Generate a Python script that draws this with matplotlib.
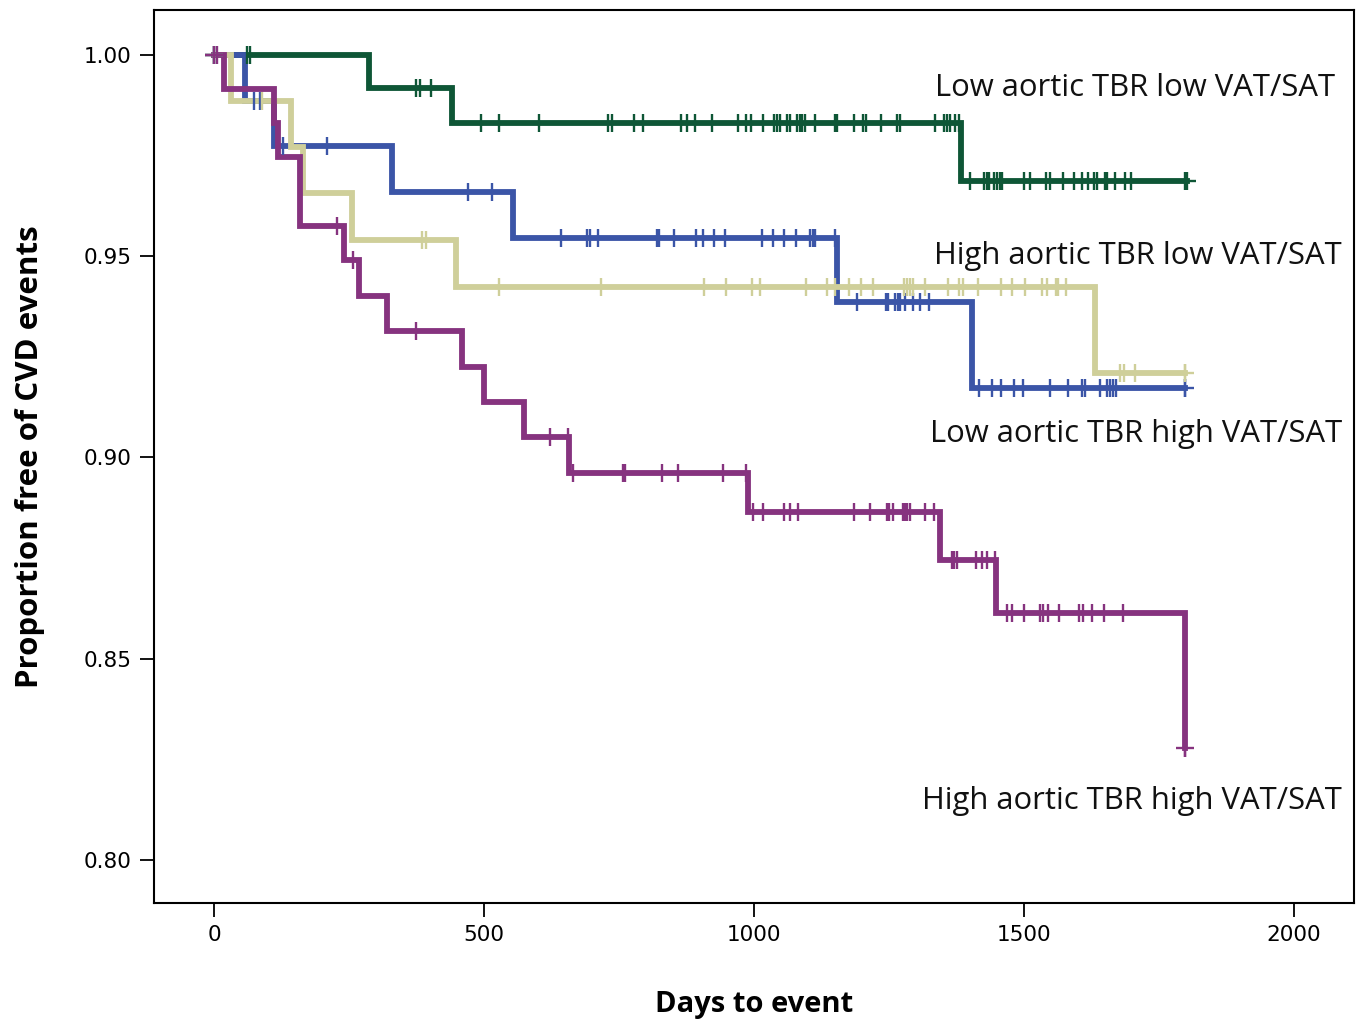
import matplotlib
matplotlib.use('Agg')
import matplotlib.pyplot as plt

# step curves: event times (days) and survival after each step
low_low_times = [0, 287, 441, 1383, 1802]
low_low_surv = [1.0, 0.9917, 0.9832, 0.9687, 0.9687]
low_low_cens = [61, 67, 374, 381, 402, 494, 527, 601, 729, 737, 778, 794, 864, 875, 891, 923,
                971, 986, 994, 1017, 1037, 1042, 1048, 1062, 1067, 1080, 1085, 1089, 1094, 1113,
                1150, 1153, 1185, 1202, 1207, 1235, 1264, 1271, 1335, 1351, 1357, 1363, 1372, 1380,
                1400, 1426, 1431, 1436, 1444, 1450, 1456, 1459, 1500, 1511, 1541, 1548, 1573,
                1593, 1608, 1619, 1630, 1635, 1650, 1653, 1669, 1687, 1698, 1799]

high_low_times = [0, 57, 112, 329, 554, 1153, 1403, 1799]
high_low_surv = [1.0, 0.9886, 0.9773, 0.9659, 0.9545, 0.9386, 0.9173, 0.9173]
high_low_cens = [75, 85, 128, 209, 470, 514, 643, 690, 696, 712, 820, 825, 852, 892, 906, 925,
                 946, 1014, 1035, 1056, 1077, 1104, 1109, 1113, 1150, 1190, 1244, 1249, 1261,
                 1266, 1270, 1280, 1295, 1307, 1324, 1417, 1440, 1458, 1481, 1499, 1548, 1582,
                 1608, 1613, 1641, 1653, 1659, 1665, 1670, 1799]

low_high_times = [0, 31, 142, 164, 256, 449, 1632, 1799]
low_high_surv = [1.0, 0.9885, 0.9771, 0.9656, 0.9541, 0.9424, 0.9209, 0.9209]
low_high_cens = [88, 385, 392, 527, 716, 907, 949, 996, 1012, 1096, 1136, 1150, 1176, 1199,
                 1221, 1277, 1283, 1289, 1295, 1317, 1360, 1380, 1387, 1415, 1457, 1477, 1502,
                 1533, 1542, 1559, 1563, 1578, 1678, 1685, 1706, 1799]

high_high_times = [0, 18, 111, 118, 159, 240, 269, 321, 459, 500, 574, 658, 988, 1344, 1448, 1798]
high_high_surv = [1.0, 0.9915, 0.9830, 0.9747, 0.9575, 0.9491, 0.9402, 0.9314, 0.9226, 0.9139,
                  0.9052, 0.8962, 0.8865, 0.8745, 0.8614, 0.8278]
high_high_cens = [5, 228, 257, 374, 622, 656, 665, 758, 762, 829, 860, 943, 986, 999, 1017, 1056,
                  1067, 1082, 1185, 1214, 1246, 1250, 1258, 1275, 1279, 1284, 1289, 1317, 1333,
                  1366, 1371, 1376, 1411, 1423, 1432, 1446, 1469, 1477, 1500, 1530, 1535, 1545,
                  1565, 1601, 1610, 1626, 1649, 1683, 1798]

groups = [
    ('Low aortic TBR low VAT/SAT', low_low_times, low_low_surv, low_low_cens, '#0e5636'),
    ('High aortic TBR low VAT/SAT', high_low_times, high_low_surv, high_low_cens, '#3b55a7'),
    ('Low aortic TBR high VAT/SAT', low_high_times, low_high_surv, low_high_cens, '#cfcf9a'),
    ('High aortic TBR high VAT/SAT', high_high_times, high_high_surv, high_high_cens, '#86337f'),
]

label_pos = {
    'Low aortic TBR low VAT/SAT': (1335, 0.9918),
    'High aortic TBR low VAT/SAT': (1342, 0.9500),
    'Low aortic TBR high VAT/SAT': (1342, 0.9058),
    'High aortic TBR high VAT/SAT': (1342, 0.8147),
}


def surv_at(t, times, surv):
    s = surv[0]
    for tt, ss in zip(times, surv):
        if tt <= t:
            s = ss
    return s


fig = plt.figure(figsize=(13.62, 10.26), dpi=100)
ax = fig.add_axes([0.1131, 0.1199, 0.881, 0.8704])

for name, times, surv, cens, col in groups:
    ax.step(times, surv, where='post', color=col, lw=4.2, solid_joinstyle='miter', zorder=2)
    cy = [surv_at(c, times, surv) for c in cens]
    ax.plot(cens, cy, ls='none', marker='|', ms=13, mew=1.7, color=col, zorder=3)
    ax.plot([times[0], times[-1]], [surv[0], surv[-1]], ls='none', marker='+', ms=13,
            mew=1.7, color=col, zorder=3)

trans = ax.get_yaxis_transform()
for name, (px, yv) in label_pos.items():
    xd = (px - 154) / 1200
    ax.text(xd, yv, name, transform=trans, ha='right', va='center',
            fontsize=22.3, family='Open Sans', color='#111111')

ax.set_xlim(-111, 2111)
ax.set_ylim(0.7893, 1.0112)
ax.set_xticks([0, 500, 1000, 1500, 2000])
ax.set_yticks([0.80, 0.85, 0.90, 0.95, 1.00])
ax.set_yticklabels(['0.80', '0.85', '0.90', '0.95', '1.00'])
for sp in ax.spines.values():
    sp.set_linewidth(1.5)
ax.tick_params(direction='out', length=10, width=1.3, labelsize=15.5, pad=6)
for lab in ax.get_xticklabels() + ax.get_yticklabels():
    lab.set_family(['Liberation Sans Narrow', 'DejaVu Sans'])

ax.set_xlabel('Days to event', fontsize=21, fontweight='bold', family='Open Sans', labelpad=32)
ax.set_ylabel('Proportion free of CVD events', fontsize=22.5, fontweight='bold',
              family='Open Sans', labelpad=28)

fig.savefig('out.png', dpi=100)
